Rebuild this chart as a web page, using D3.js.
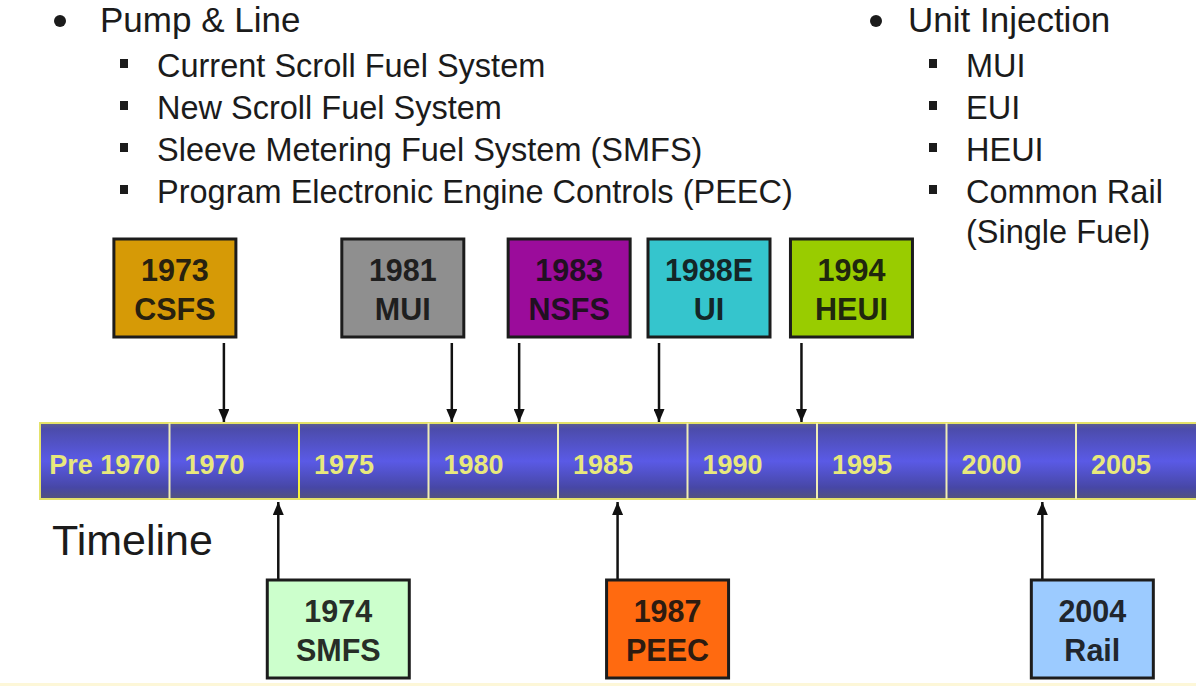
<!DOCTYPE html>
<html>
<head>
<meta charset="utf-8">
<script src="https://cdn.jsdelivr.net/npm/d3@7"></script>
<style>
  body { margin: 0; background: #fff; }
  svg { display: block; font-family: "Liberation Sans", Arial, sans-serif; }
</style>
</head>
<body>
<div class="chart"></div>
<script>
// Timeline segments (start year of each block and its label)
var segmentStarts = [1965, 1970, 1975, 1980, 1985, 1990, 1995, 2000, 2005];
var segmentLabels = ["Pre 1970", "1970", "1975", "1980", "1985", "1990", "1995", "2000", "2005"];

// Events: label lines, where the arrow points on the timeline, above/below
var eventYears = ["1973", "1981", "1983", "1988E", "1994", "1974", "1987", "2004"];
var eventCodes = ["CSFS", "MUI", "NSFS", "UI", "HEUI", "SMFS", "PEEC", "Rail"];
var eventPointer = [1972.1, 1980.9, 1983.5, 1988.9, 1994.4, 1974.2, 1987.3, 2003.7];
var eventRow = ["above", "above", "above", "above", "above", "below", "below", "below"];

// Bullet lists
var pumpTitle = "Pump & Line";
var pumpItems = ["Current Scroll Fuel System", "New Scroll Fuel System",
  "Sleeve Metering Fuel System (SMFS)", "Program Electronic Engine Controls (PEEC)"];
var unitTitle = "Unit Injection";
var unitItems = [["MUI"], ["EUI"], ["HEUI"], ["Common Rail", "(Single Fuel)"]];

var svgWidth = 1196, svgHeight = 686;

var svg = d3.select(".chart").append("svg")
  .attr("width", svgWidth)
  .attr("height", svgHeight);

// pale strip at the bottom of the slide
svg.append("rect").attr("x", 0).attr("y", 683).attr("width", svgWidth).attr("height", 3)
  .attr("fill", "#fdf7d8");

var defs = svg.append("defs");
var grad = defs.append("linearGradient").attr("id", "barGrad")
  .attr("x1", 0).attr("y1", 0).attr("x2", 0).attr("y2", 1);
[[0, "#5e5e8e"], [0.08, "#4c4cab"], [0.5, "#5a5ae6"], [0.85, "#4747a6"], [1, "#54547c"]]
  .forEach(function(s) { grad.append("stop").attr("offset", s[0]).attr("stop-color", s[1]); });

// arrow head, drawn pointing along +x so orient=auto lines it up with the shaft
defs.append("marker").attr("id", "head")
  .attr("viewBox", "0 0 13 11").attr("refX", 13).attr("refY", 5.5)
  .attr("markerWidth", 13).attr("markerHeight", 11)
  .attr("markerUnits", "userSpaceOnUse")
  .attr("orient", "auto")
  .append("path").attr("d", "M0,0 L13,5.5 L0,11 Z").attr("fill", "#111");

// x scale for years along the bar
var x = d3.scaleLinear().domain([1965, 2005]).range([40, 1076]);
var barTop = 423, barHeight = 76;

var color = d3.scaleOrdinal()
  .domain(eventCodes)
  .range(["#d69a06", "#8f8f8f", "#9b0c9b", "#35c5cd", "#99cc00", "#ccffcc", "#ff6a10", "#9ccbff"]);

// ---- timeline bar ----
var segs = segmentStarts.map(function(s, i) { return { start: s, label: segmentLabels[i] }; });
var bar = svg.append("g");
bar.selectAll("rect.seg").data(segs).enter().append("rect")
  .attr("class", "seg")
  .attr("x", d => x(d.start))
  .attr("y", barTop)
  .attr("width", d => x(d.start + 5) - x(d.start))
  .attr("height", barHeight)
  .attr("fill", "url(#barGrad)");

bar.append("rect")
  .attr("x", x(1965)).attr("y", barTop)
  .attr("width", x(2010) - x(1965)).attr("height", barHeight)
  .attr("fill", "none").attr("stroke", "#e4e26a").attr("stroke-width", 2);

bar.selectAll("line.div").data(segs.slice(1)).enter().append("line")
  .attr("class", "div")
  .attr("x1", d => x(d.start)).attr("x2", d => x(d.start))
  .attr("y1", barTop).attr("y2", barTop + barHeight)
  .attr("stroke", d => d.start === 1975 ? "#f6f23c" : "#efedb4")
  .attr("stroke-width", 2);

bar.selectAll("text.seglabel").data(segs).enter().append("text")
  .attr("class", "seglabel")
  .attr("y", barTop + 51)
  .attr("font-size", 27).attr("font-weight", "bold")
  .attr("fill", "#e8e87c")
  .text(d => d.label)
  .attr("x", function(d) {
    var w = this.getComputedTextLength();
    var segW = x(d.start + 5) - x(d.start);
    return x(d.start) + Math.min(15, (segW - w) / 2);
  });

// ---- event boxes and arrows ----
var events = eventCodes.map(function(c, i) {
  return { code: c, year: eventYears[i], at: eventPointer[i], row: eventRow[i] };
});
var anchorRight = { CSFS: true, MUI: true };
var boxWidth = { SMFS: 142 };
var boxH = 98;

var ev = svg.append("g").selectAll("g").data(events).enter().append("g");

ev.each(function(d) {
  var g = d3.select(this);
  var ax = x(d.at);
  var w = boxWidth[d.code] || 122;
  var left = anchorRight[d.code] ? ax + 12 - w : ax - 11;
  var top = d.row === "above" ? 239 : 580;
  var fill = color(d.code);

  if (d.row === "above") {
    g.append("line").attr("x1", ax).attr("x2", ax)
      .attr("y1", top + boxH + 6).attr("y2", barTop - 1)
      .attr("stroke", "#111").attr("stroke-width", 2.5)
      .attr("marker-end", "url(#head)");
  } else {
    g.append("line").attr("x1", ax).attr("x2", ax)
      .attr("y1", top).attr("y2", barTop + barHeight + 3)
      .attr("stroke", "#111").attr("stroke-width", 2.5)
      .attr("marker-end", "url(#head)");
  }

  g.append("rect")
    .attr("x", left).attr("y", top)
    .attr("width", w).attr("height", boxH)
    .attr("fill", fill)
    .attr("stroke", "#1c1c1c").attr("stroke-width", 3);

  var tcol = d3.interpolateRgb(fill, "#101010")(0.88);
  [d.year, d.code].forEach(function(t, k) {
    g.append("text")
      .attr("x", left + w / 2)
      .attr("y", top + (k === 0 ? 42 : 81))
      .attr("text-anchor", "middle")
      .attr("font-size", 30.5).attr("font-weight", "bold")
      .attr("fill", tcol)
      .text(t);
  });
});

// ---- bullet lists ----
var ink = "#1b1b1b";
function bulletList(bx, tx, sbx, stx, title, items) {
  var g = svg.append("g");
  g.append("circle").attr("cx", bx).attr("cy", 21).attr("r", 6).attr("fill", ink);
  g.append("text").attr("x", tx).attr("y", 32)
    .attr("font-size", 35).attr("fill", ink).text(title);
  var y = 77;
  items.forEach(function(lines) {
    if (!Array.isArray(lines)) lines = [lines];
    g.append("rect").attr("x", sbx).attr("y", y - 18).attr("width", 8).attr("height", 9)
      .attr("fill", ink);
    lines.forEach(function(l, k) {
      g.append("text").attr("x", stx).attr("y", y + k * 40)
        .attr("font-size", 32.5).attr("fill", ink).text(l);
    });
    y += 42 + (lines.length - 1) * 40;
  });
}
bulletList(60, 100, 120, 157, pumpTitle, pumpItems);
bulletList(876, 908, 929, 966, unitTitle, unitItems);

// Timeline caption
svg.append("text").attr("x", 52).attr("y", 555)
  .attr("font-size", 43).attr("fill", ink).text("Timeline");
</script>
</body>
</html>
